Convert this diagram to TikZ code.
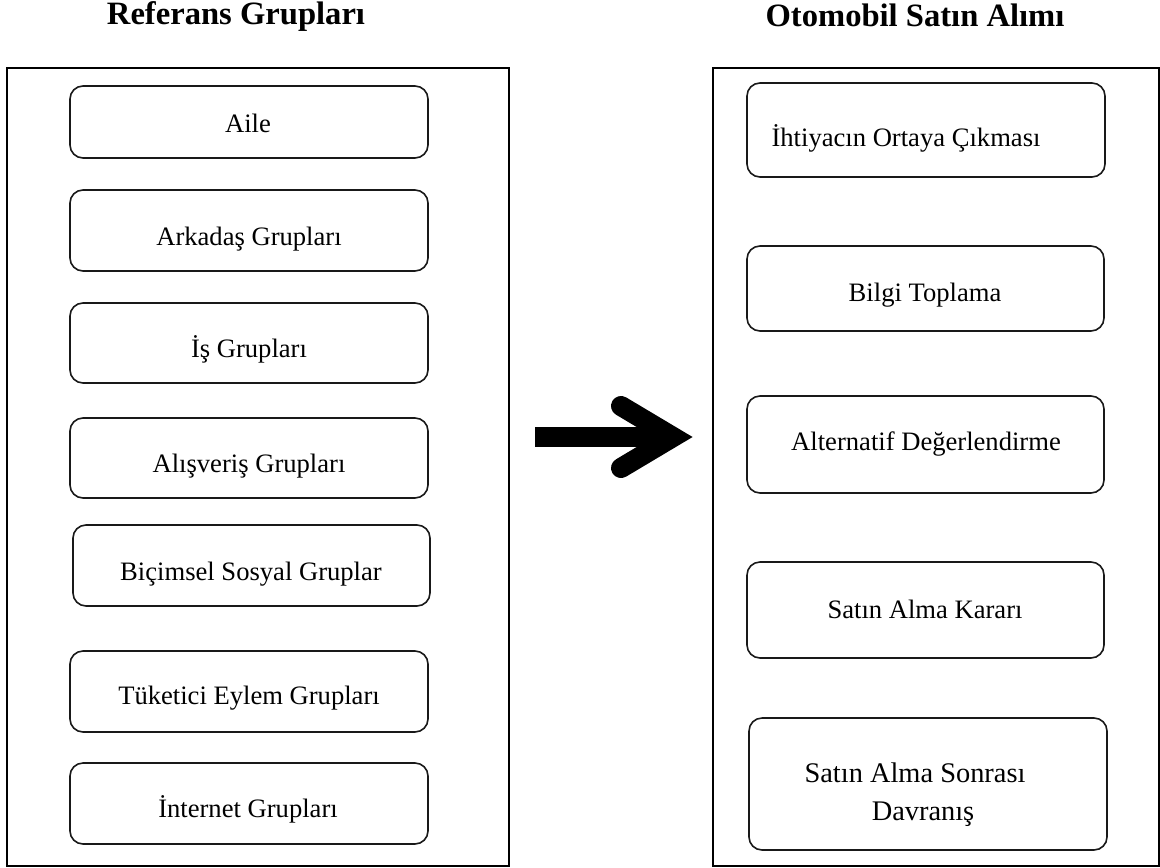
\documentclass[tikz,border=0pt]{standalone}
\usepackage{fontspec}
\setmainfont{Liberation Serif}
\begin{document}
\begin{tikzpicture}[x=0.5pt,y=-0.5pt,
  frame/.style={draw=black,line width=1.1pt,rectangle,inner sep=0pt},
  gbox/.style={draw=black!90,line width=0.8pt,rectangle,rounded corners=6.5pt,inner sep=0pt},
  lbl/.style={anchor=base,inner sep=0pt,font=\fontsize{13.3pt}{19pt}\selectfont},
  lblbig/.style={anchor=base,inner sep=0pt,font=\fontsize{14.2pt}{19pt}\selectfont},
  ttl/.style={anchor=base,inner sep=0pt,font=\fontsize{16.3pt}{19pt}\selectfont\bfseries},
  arrowpart/.style={line width=10pt,line cap=round,line join=miter}]
\useasboundingbox (0,0) rectangle (1160,867);
% titles
\node[ttl] (tl) at (236,25) {Referans Grupları};
\node[ttl] (tr) at (915,26) {Otomobil Satın Alımı};
% outer frames
\node[frame,minimum width=251pt,minimum height=399pt] (L) at (258,467) {};
\node[frame,minimum width=223pt,minimum height=399pt] (R) at (936,467) {};
% left boxes
\node[gbox,minimum width=179pt,minimum height=36pt] (l1) at (249,122) {};
\node[gbox,minimum width=179pt,minimum height=40.5pt] (l2) at (249,230.5) {};
\node[gbox,minimum width=179pt,minimum height=40pt] (l3) at (249,343) {};
\node[gbox,minimum width=179pt,minimum height=40pt] (l4) at (249,458) {};
\node[gbox,minimum width=178.5pt,minimum height=40.5pt] (l5) at (251.5,565.5) {};
\node[gbox,minimum width=179pt,minimum height=40.5pt] (l6) at (249,691.5) {};
\node[gbox,minimum width=179pt,minimum height=40.5pt] (l7) at (249,803.5) {};
\node[lbl] (lt1) at (248,132.5) {Aile};
\node[lbl] (lt2) at (249,245) {Arkadaş Grupları};
\node[lbl] (lt3) at (249,357.5) {İş Grupları};
\node[lbl] (lt4) at (249,472.5) {Alışveriş Grupları};
\node[lbl] (lt5) at (251,580.5) {Biçimsel Sosyal Gruplar};
\node[lbl] (lt6) at (249,704) {Tüketici Eylem Grupları};
\node[lbl] (lt7) at (248,817.5) {İnternet Grupları};
% right boxes
\node[gbox,minimum width=179pt,minimum height=47pt] (r1) at (926,130) {};
\node[gbox,minimum width=178.5pt,minimum height=42.5pt] (r2) at (925.5,288.5) {};
\node[gbox,minimum width=178.5pt,minimum height=48.5pt] (r3) at (925.5,444.5) {};
\node[gbox,minimum width=178.5pt,minimum height=48pt] (r4) at (925.5,610) {};
\node[gbox,minimum width=179pt,minimum height=66pt] (r5) at (928,784) {};
\node[lbl] (rt1) at (906,146.7) {İhtiyacın Ortaya Çıkması};
\node[lbl] (rt2) at (925,301) {Bilgi Toplama};
\node[lbl] (rt3) at (926,450.7) {Alternatif Değerlendirme};
\node[lbl] (rt4) at (925,618) {Satın Alma Kararı};
\node[lblbig] (rt5a) at (915,782) {Satın Alma Sonrası};
\node[lblbig] (rt5b) at (923,820) {Davranış};
% block arrow
\coordinate (aS) at (535,437);
\coordinate (aE) at (660,437);
\coordinate (aV) at (673,437);
\coordinate (aU) at (621,406);
\coordinate (aD) at (621,468);
\begin{scope}[shift={(3,4)}]
  \fill[black!15] ([yshift=5pt]aS) rectangle ([yshift=-5pt]aE);
  \draw[arrowpart,black!15] (aU) -- (aV) -- (aD);
\end{scope}
\fill[black] ([yshift=5pt]aS) rectangle ([yshift=-5pt]aE);
\draw[arrowpart,black] (aU) -- (aV) -- (aD);
\end{tikzpicture}
\end{document}
